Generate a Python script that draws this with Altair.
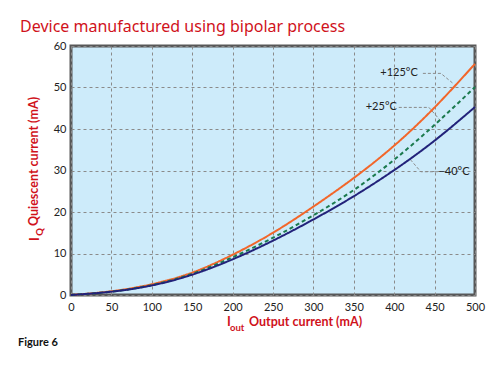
import altair as alt
import pandas as pd

# Data
x_vals = [0, 50, 100, 150, 200, 250, 300, 350, 400, 450, 500]
t125 = [0, 0.9, 2.6, 5.4, 9.7, 15.0, 21.3, 28.2, 36.0, 45.2, 55.7]
t25 = [0, 0.8, 2.4, 5.1, 9.1, 13.8, 19.2, 25.3, 32.6, 41.0, 50.1]
tm40 = [0, 0.8, 2.3, 4.9, 8.6, 13.1, 18.2, 23.8, 30.1, 37.2, 45.3]

series_names = ["+125°C", "+25°C", "−40°C"]
series_colors = ["#f2662a", "#1b7a4e", "#22227a"]

x_ticks = [0, 50, 100, 150, 200, 250, 300, 350, 400, 450, 500]
y_ticks = [0, 10, 20, 30, 40, 50, 60]

label_x = [406, 384, 474]
label_y = [53.4, 45.2, 29.7]

leader_x = [[435.5, 457.8, 474], [405.7, 443, 457.8], [454, 433, 420.6]]
leader_y = [[53.4, 53.4, 50.8], [45.2, 45.2, 41.9], [29.7, 29.7, 32.5]]

rows = []
for name, vals in zip(series_names, [t125, t25, tm40]):
    for xv, yv in zip(x_vals, vals):
        rows.append({"x": xv, "y": yv, "s": name})
df = pd.DataFrame(rows)

lead_rows = []
for i, (lx, ly) in enumerate(zip(leader_x, leader_y)):
    for j, (a, b) in enumerate(zip(lx, ly)):
        lead_rows.append({"x": a, "y": b, "g": i, "o": j})
lead_df = pd.DataFrame(lead_rows)

lab_df = pd.DataFrame({"x": label_x, "y": label_y, "t": series_names})

W, H = 404, 249

xscale = alt.Scale(domain=[0, 500], nice=False)
yscale = alt.Scale(domain=[0, 60], nice=False)

xaxis = alt.Axis(values=x_ticks, title=None, grid=True, gridDash=[3, 3], gridColor="#8a8a8a",
                 gridWidth=1, domain=False, ticks=False, labelPadding=6, labelFontSize=11,
                 labelFont="Lato", labelColor="#222", labelFlush=False)
yaxis = alt.Axis(values=y_ticks, title=None, grid=True, gridDash=[3, 3], gridColor="#8a8a8a",
                 gridWidth=1, domain=False, ticks=False, labelPadding=5, labelFontSize=11,
                 labelFont="Lato", labelColor="#222")

base = alt.Chart(df)

grid = base.mark_point(opacity=0).encode(
    x=alt.X("x:Q", scale=xscale, axis=xaxis),
    y=alt.Y("y:Q", scale=yscale, axis=yaxis),
)

lines = base.mark_line(strokeWidth=2, interpolate="natural").encode(
    x=alt.X("x:Q", scale=xscale),
    y=alt.Y("y:Q", scale=yscale),
    color=alt.Color("s:N", scale=alt.Scale(domain=series_names, range=series_colors), legend=None),
    strokeDash=alt.StrokeDash("s:N", scale=alt.Scale(domain=series_names, range=[[1, 0], [4, 3], [1, 0]]), legend=None),
)

leaders = alt.Chart(lead_df).mark_line(stroke="#8a8a8a", strokeWidth=1, strokeDash=[3, 2]).encode(
    x=alt.X("x:Q", scale=xscale),
    y=alt.Y("y:Q", scale=yscale),
    detail="g:N",
    order="o:Q",
)

labels = alt.Chart(lab_df).mark_text(font="Lato", fontSize=11, color="#222", align="center", baseline="middle").encode(
    x=alt.X("x:Q", scale=xscale),
    y=alt.Y("y:Q", scale=yscale),
    text="t:N",
)


def txt(text, x, y, size=11, color="#d0121b", weight="bold", angle=0, align="left", font="Lato"):
    return alt.Chart(alt.Data(values=[{}])).mark_text(
        text=text, fontSize=size, color=color, fontWeight=weight, angle=angle,
        align=align, baseline="middle", font=font,
    ).encode(x=alt.value(x), y=alt.value(y))


texts = [
    txt("Device manufactured using bipolar process", -51, -19.5, size=16, weight="normal", font="Noto Sans"),
    txt("I", 156, 276, size=13),
    txt("out", 159, 282, size=9.5),
    txt("Output current (mA)", 178, 276, size=12.5),
    txt("Quiescent current (mA)", -37, 115.5, size=12.5, angle=270, align="center"),
    txt("I", -36, 193, size=13, angle=270, align="center"),
    txt("Q", -31, 186, size=9.5, angle=270, align="center"),
    txt("Figure 6", -53, 296.5, size=11, color="#111"),
]

chart = alt.layer(grid, leaders, lines, labels, *texts).properties(
    width=W, height=H,
    autosize=alt.AutoSizeParams(type="none"),
    padding={"left": 63, "top": 38, "right": 12, "bottom": 58},
).configure_view(
    fill="#cdebfa", stroke="#585858", strokeWidth=3,
)

chart.save("out.html", embed_options={"renderer": "svg", "actions": False})
